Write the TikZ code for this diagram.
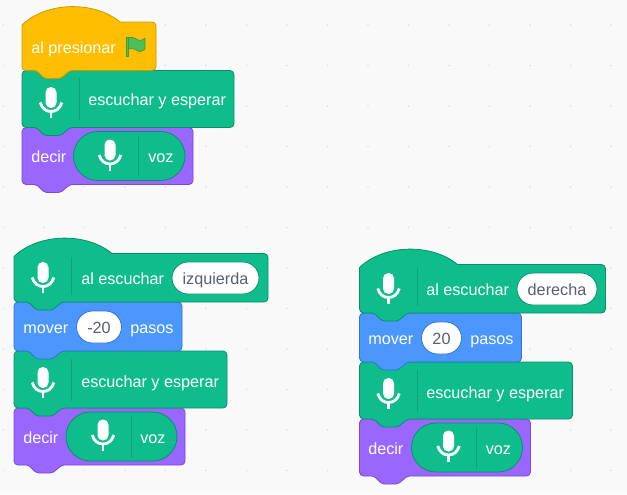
\documentclass[tikz,border=0pt]{standalone}
\usepackage{fontspec}
\setmainfont{Liberation Sans}
\definecolor{bg}{HTML}{F9F9F9}
\definecolor{dotc}{HTML}{DDDDDD}
\definecolor{gf}{HTML}{0FBD8C}
\definecolor{gs}{HTML}{0B8E69}
\definecolor{yf}{HTML}{FFBF00}
\definecolor{ys}{HTML}{CC9900}
\definecolor{pf}{HTML}{9966FF}
\definecolor{ps}{HTML}{774DCB}
\definecolor{bf}{HTML}{4C97FF}
\definecolor{bs}{HTML}{3373CC}
\definecolor{itxt}{HTML}{575E75}
\definecolor{flagf}{HTML}{4CBF56}
\definecolor{flags}{HTML}{45993D}
\tikzset{
  x=0.75pt,y=-0.75pt,
  greenb/.style={fill=gf,draw=gs,line width=0.6pt,line join=round},
  yellowb/.style={fill=yf,draw=ys,line width=0.6pt,line join=round},
  purpleb/.style={fill=pf,draw=ps,line width=0.6pt,line join=round},
  blueb/.style={fill=bf,draw=bs,line width=0.6pt,line join=round},
  whitepill/.style={fill=white,draw=#1,line width=0.6pt},
  lbl/.style={anchor=base west,inner sep=0pt,yshift=-0.4pt,text=white,font=\fontsize{12.15pt}{14pt}\selectfont},
  inp/.style={anchor=base,inner sep=0pt,yshift=-0.4pt,text=itxt,font=\fontsize{12.15pt}{14pt}\selectfont},
  divider/.style={draw=gs,line width=0.6pt,opacity=0.55},
}
% x, y, w, h, style
\newcommand{\stackblk}[5]{%
  \draw[#5,rounded corners=3pt] (#1,#2) -- (#1+#3,#2) -- (#1+#3,#2+#4)
    [rounded corners=1.5pt] -- (#1+48,#2+#4) -- (#1+38.5,#2+#4+8) -- (#1+22.5,#2+#4+8) -- (#1+14.5,#2+#4)
    [rounded corners=3pt] -- (#1,#2+#4) -- cycle;}
% x, y(flat top), w, h, style
\newcommand{\hatblk}[5]{%
  \draw[#5] (#1,#2+3) .. controls (#1+25,#2-21) and (#1+73,#2-21) .. (#1+98,#2)
    [rounded corners=3pt] -- (#1+#3,#2) -- (#1+#3,#2+#4)
    [rounded corners=1.5pt] -- (#1+48,#2+#4) -- (#1+38.5,#2+#4+8) -- (#1+22.5,#2+#4+8) -- (#1+14.5,#2+#4)
    [rounded corners=3pt] -- (#1,#2+#4) -- (#1,#2+3);}
% x1, y1, x2, y2, radius in pt, style
\newcommand{\pillshape}[6]{%
  \draw[#6,rounded corners=#5] (#1,#2) -- (#3,#2) -- (#3,#4) -- (#1,#4) -- cycle;}
% cx, cy
\newcommand{\micicon}[2]{%
  \fill[white,rounded corners=4pt] (#1-5.5,#2-12) -- (#1+5.5,#2-12) -- (#1+5.5,#2+9) -- (#1-5.5,#2+9) -- cycle;
  \draw[white,line width=2.1pt,line cap=butt] (#1-10.8,#2+3.5) .. controls (#1-9,#2+9.5) and (#1-5,#2+12.5) .. (#1,#2+12.5) .. controls (#1+5,#2+12.5) and (#1+9,#2+9.5) .. (#1+10.8,#2+3.5);
  \draw[white,line width=2.1pt] (#1,#2+12) -- (#1,#2+19);}
\begin{document}
\begin{tikzpicture}
\useasboundingbox (0,0) rectangle (627,494);
\fill[bg] (0,0) rectangle (627,494);
\foreach \i in {0,...,15}{\foreach \j in {0,...,11}{
  \fill[dotc] ({3.5+40.5*\i},{25+40.5*\j}) circle (0.7pt);}}

% ---- stack 1 ----
\stackblk{22}{127.5}{171}{57}{purpleb}
\stackblk{22}{70.5}{212}{57}{greenb}
\hatblk{22}{22}{134}{48.5}{yellowb}
\draw[divider] (79,78) -- (79,120);
\micicon{51}{99}
\node[lbl] (aone) at (31,52.5) {al presionar};
\fill[flagf,draw=flags,line width=0.5pt,line join=round] (127,38.5)
  .. controls (131,36) and (135,38) .. (138,40) .. controls (140,41) and (143,40.5) .. (145,38)
  -- (145,49) .. controls (142,52) and (139,52) .. (136,50) .. controls (133,48) and (130,48) .. (127,50) -- cycle;
\fill[flagf,draw=flags,line width=0.5pt] (126,37) rectangle (128,56.5);
\node[lbl] (bone) at (88,104.5) {escuchar y esperar};
\node[lbl] (cone) at (31,161.5) {decir};
\pillshape{73.5}{131.5}{185}{180.5}{18.3pt}{greenb}
\draw[divider] (138.5,135) -- (138.5,177);
\micicon{110}{151.5}
\node[lbl] (done) at (148,161.5) {voz};

% ---- stack 2 ----
\stackblk{14}{408}{171}{57}{purpleb}
\stackblk{14}{351}{213}{57}{greenb}
\stackblk{14}{302}{168}{49}{blueb}
\hatblk{14}{253.5}{254}{48.5}{greenb}
\draw[divider] (71.5,257) -- (71.5,295);
\micicon{43}{274}
\node[lbl] (atwo) at (81,283.5) {al escuchar};
\pillshape{172}{262}{259}{294}{12pt}{whitepill=gs}
\node[inp] (btwo) at (215.5,283.5) {izquierda};
\node[lbl] (ctwo) at (23,332.5) {mover};
\pillshape{76.5}{311}{121.5}{343}{12pt}{whitepill=bs}
\node[inp] (dtwo) at (99,332.5) {-20};
\node[lbl] (etwo) at (130,332.5) {pasos};
\draw[divider] (71.5,359) -- (71.5,401);
\micicon{43}{379}
\node[lbl] (ftwo) at (81,386.5) {escuchar y esperar};
\node[lbl] (gtwo) at (23,442.5) {decir};
\pillshape{66}{412}{177}{461}{18.3pt}{greenb}
\draw[divider] (131,415.5) -- (131,457.5);
\micicon{103}{431.5}
\node[lbl] (htwo) at (140,442.5) {voz};

% ---- stack 3 ----
\stackblk{359.5}{419}{171}{57}{purpleb}
\stackblk{359.5}{362}{213}{57}{greenb}
\stackblk{359.5}{313}{162}{49}{blueb}
\hatblk{359.5}{264.5}{246}{48.5}{greenb}
\draw[divider] (417,268) -- (417,306);
\micicon{388.5}{285}
\node[lbl] (athree) at (426,294.5) {al escuchar};
\pillshape{517}{273}{597}{305}{12pt}{whitepill=gs}
\node[inp] (bthree) at (557,294.5) {derecha};
\node[lbl] (cthree) at (368,343.5) {mover};
\pillshape{421.5}{322}{461.5}{354}{12pt}{whitepill=bs}
\node[inp] (dthree) at (441.5,343.5) {20};
\node[lbl] (ethree) at (470,343.5) {pasos};
\draw[divider] (417,370) -- (417,412);
\micicon{388.5}{390}
\node[lbl] (fthree) at (426,397.5) {escuchar y esperar};
\node[lbl] (gthree) at (368,453.5) {decir};
\pillshape{411.5}{423}{522.5}{472}{18.3pt}{greenb}
\draw[divider] (476.5,426.5) -- (476.5,468.5);
\micicon{448.5}{442.5}
\node[lbl] (hthree) at (485.5,453.5) {voz};
\end{tikzpicture}
\end{document}
